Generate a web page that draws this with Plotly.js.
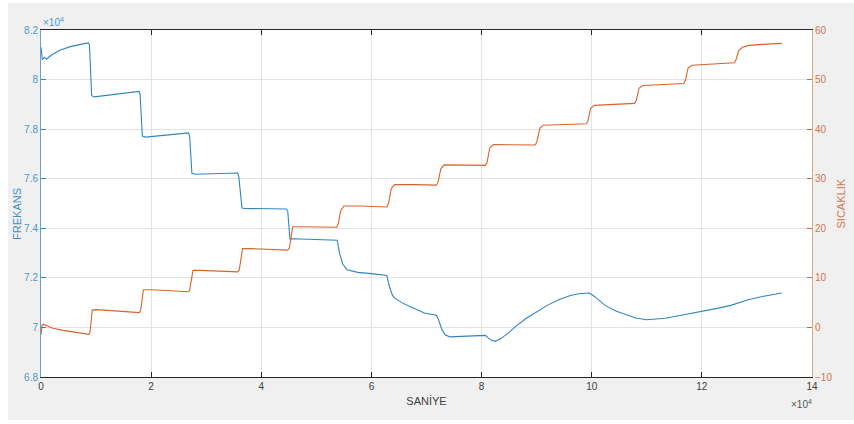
<!DOCTYPE html>
<html>
<head>
<meta charset="utf-8">
<script src="https://cdn.plot.ly/plotly-3.0.1.min.js"></script>
<style>
html,body{margin:0;padding:0;background:#fff;}
#chart{width:854px;height:424px;}
</style>
</head>
<body>
<div id="chart"></div>
<script>
// time in units of 1e4 s, frequency in units of 1e4 Hz, temperature in °C
var freqTime = [0.000,0.010,0.025,0.06,0.10,0.15,0.20,0.34,0.53,0.70,0.86,0.88,0.92,0.97,1.30,1.60,1.78,1.80,1.84,1.90,2.30,2.68,2.70,2.74,2.80,3.20,3.57,3.59,3.65,3.70,4.10,4.45,4.48,4.52,4.58,5.00,5.38,5.42,5.48,5.56,5.75,6.00,6.28,6.32,6.38,6.42,6.55,6.69,6.96,7.18,7.22,7.28,7.34,7.42,7.70,8.00,8.07,8.12,8.18,8.25,8.35,8.50,8.62,8.80,9.00,9.20,9.40,9.60,9.76,9.96,10.05,10.25,10.45,10.61,10.80,11.00,11.33,11.60,11.97,12.30,12.54,12.84,13.10,13.45];
var freqValue = [8.130,8.100,8.080,8.090,8.082,8.092,8.100,8.118,8.133,8.141,8.148,8.140,7.935,7.930,7.940,7.948,7.952,7.940,7.772,7.768,7.776,7.785,7.770,7.622,7.618,7.620,7.623,7.610,7.482,7.480,7.480,7.478,7.470,7.357,7.358,7.354,7.352,7.300,7.255,7.233,7.222,7.217,7.210,7.170,7.130,7.119,7.100,7.085,7.058,7.049,7.030,6.991,6.970,6.962,6.964,6.965,6.968,6.958,6.948,6.944,6.955,6.980,7.004,7.035,7.062,7.090,7.112,7.128,7.136,7.139,7.125,7.088,7.065,7.052,7.038,7.031,7.037,7.048,7.063,7.078,7.090,7.112,7.125,7.139];

var tempTime = [0.000,0.02,0.05,0.12,0.20,0.40,0.60,0.87,0.89,0.93,1.00,1.40,1.79,1.81,1.86,2.00,2.40,2.68,2.70,2.76,2.90,3.30,3.57,3.60,3.66,3.80,4.20,4.48,4.51,4.57,4.70,5.00,5.37,5.40,5.44,5.50,5.80,6.28,6.31,6.36,6.42,6.80,7.18,7.21,7.26,7.32,7.70,8.07,8.10,8.15,8.22,8.60,8.97,9.00,9.06,9.12,9.50,9.90,9.93,9.98,10.05,10.40,10.78,10.81,10.86,10.93,11.30,11.67,11.70,11.75,11.82,12.20,12.59,12.62,12.67,12.74,12.85,13.10,13.45];
var tempValue = [-1.5,0.5,0.6,0.3,-0.1,-0.6,-1.0,-1.4,-1.0,3.5,3.6,3.3,3.0,3.5,7.6,7.6,7.4,7.2,7.6,11.5,11.5,11.4,11.2,11.6,15.9,15.9,15.8,15.6,16.0,20.3,20.3,20.2,20.2,21.0,23.5,24.5,24.5,24.3,25.0,28.0,28.8,28.8,28.7,29.3,32.0,32.8,32.8,32.7,33.3,36.3,36.9,36.9,36.8,37.3,40.2,40.8,41.0,41.1,41.6,44.2,44.8,45.0,45.2,45.8,48.3,48.8,49.0,49.2,49.8,52.3,52.9,53.2,53.4,54.0,55.9,56.5,56.9,57.1,57.3];

var xTickVals = [0,2,4,6,8,10,12,14];
var xTickText = ['0','2','4','6','8','10','12','14'];
var yTickVals = [6.8,7.0,7.2,7.4,7.6,7.8,8.0,8.2];
var yTickText = ['6.8','7','7.2','7.4','7.6','7.8','8','8.2'];
var y2TickVals = [-10,0,10,20,30,40,50,60];

var SCALE = 10000;
var blue = '#2f86bf';
var orange = '#d9622b';
var font = '"Liberation Sans", Arial, Helvetica, sans-serif';

var traces = [
  {
    x: freqTime.map(function(v){return v*SCALE;}),
    y: freqValue.map(function(v){return v*SCALE;}),
    type: 'scatter', mode: 'lines', name: 'FREKANS',
    line: {color: blue, width: 1.1},
    yaxis: 'y'
  },
  {
    x: tempTime.map(function(v){return v*SCALE;}),
    y: tempValue,
    type: 'scatter', mode: 'lines', name: 'SICAKLIK',
    line: {color: orange, width: 1.1},
    yaxis: 'y2'
  }
];

var layout = {
  width: 854, height: 424,
  margin: {l: 41, r: 42, t: 30, b: 47, pad: 0},
  paper_bgcolor: '#ffffff',
  plot_bgcolor: '#ffffff',
  showlegend: false,
  font: {family: font, size: 10, color: '#404040'},
  xaxis: {
    range: [0, 14*SCALE],
    tickmode: 'array',
    tickvals: xTickVals.map(function(v){return v*SCALE;}),
    ticktext: xTickText,
    ticks: 'inside', ticklen: 5, tickcolor: '#262626', tickwidth: 1,
    showline: true, linecolor: '#262626', linewidth: 1,
    mirror: 'ticks',
    showgrid: true, gridcolor: '#e3e3e3', gridwidth: 1,
    zeroline: false,
    tickfont: {family: font, size: 10, color: '#404040'},
    title: {text: 'SANİYE', font: {family: font, size: 11, color: '#404040'}, standoff: 6}
  },
  yaxis: {
    range: [6.8*SCALE, 8.2*SCALE],
    tickmode: 'array',
    tickvals: yTickVals.map(function(v){return v*SCALE;}),
    ticktext: yTickText,
    ticks: 'inside', ticklen: 5, tickcolor: blue, tickwidth: 1,
    showline: true, linecolor: '#5fa3cf', linewidth: 1,
    showgrid: true, gridcolor: '#e3e3e3', gridwidth: 1,
    zeroline: false,
    tickfont: {family: font, size: 10, color: '#4b98c9'}
  },
  yaxis2: {
    range: [-10, 60],
    tickmode: 'array',
    tickvals: y2TickVals,
    overlaying: 'y', side: 'right',
    ticks: 'inside', ticklen: 5, tickcolor: '#c0703f', tickwidth: 1,
    showline: true, linecolor: '#e0a680', linewidth: 1,
    showgrid: false, zeroline: false,
    tickfont: {family: font, size: 10, color: '#cf7a4f'}
  },
  shapes: [
    {type: 'rect', xref: 'paper', yref: 'paper', x0: -0.0428, x1: 1.06, y0: -0.124, y1: 1.078,
     fillcolor: '#f0f0f0', line: {width: 0}, layer: 'below'},
    {type: 'rect', xref: 'paper', yref: 'paper', x0: 0, x1: 1, y0: 0, y1: 1,
     fillcolor: '#ffffff', line: {width: 0}, layer: 'below'}
  ],
  annotations: [
    {xref: 'paper', yref: 'paper', x: 0, y: 1, xanchor: 'left', yanchor: 'bottom', yshift: 0, xshift: 0,
     text: '×10<sup>4</sup>', showarrow: false, font: {family: font, size: 10, color: '#4b98c9'}},
    {xref: 'paper', yref: 'paper', x: 1, y: 0, xanchor: 'right', yanchor: 'top', yshift: -19, xshift: 2,
     text: '×10<sup>4</sup>', showarrow: false, font: {family: font, size: 10, color: '#555555'}},
    {xref: 'paper', yref: 'paper', x: 0, y: 0.47, xanchor: 'center', yanchor: 'middle', xshift: -24,
     text: 'FREKANS', textangle: -90, showarrow: false, font: {family: font, size: 11, color: '#3d8fc4'}},
    {xref: 'paper', yref: 'paper', x: 1, y: 0.5, xanchor: 'center', yanchor: 'middle', xshift: 28,
     text: 'SICAKLIK', textangle: -90, showarrow: false, font: {family: font, size: 11, color: '#cf7a4f'}}
  ]
};

Plotly.newPlot('chart', traces, layout, {displayModeBar: false, staticPlot: true});
</script>
</body>
</html>
